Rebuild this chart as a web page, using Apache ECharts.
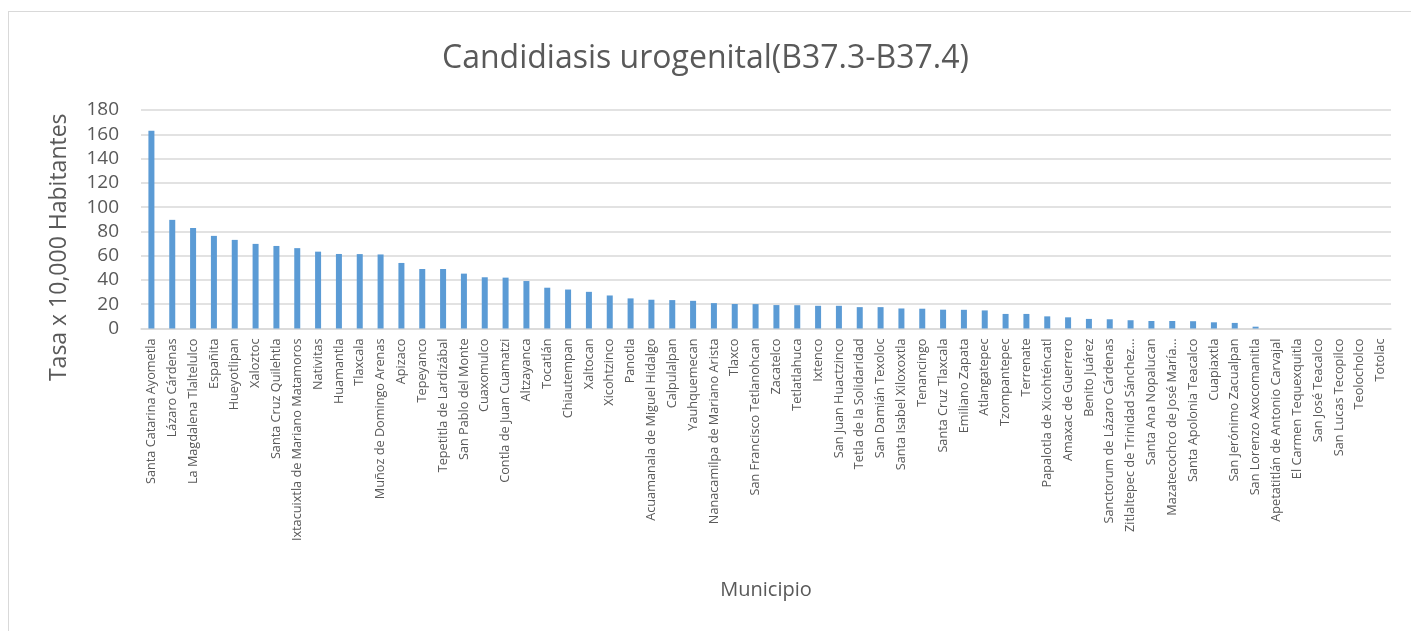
<!DOCTYPE html>
<html>
<head>
<meta charset="utf-8">
<script src="https://cdn.jsdelivr.net/npm/echarts@6/dist/echarts.min.js"></script>
<style>
  html, body { margin: 0; padding: 0; background: #fff; }
  #frame { position: absolute; left: 8px; top: 11px; width: 1420px; height: 640px; border-left: 1px solid #d9d9d9; border-top: 1px solid #d9d9d9; }
  #main { position: absolute; left: 0; top: 0; width: 1411px; height: 631px; }
</style>
</head>
<body>
<div id="frame"></div>
<div id="main"></div>
<script>
// municipios
var municipios = ['Santa Catarina Ayometla', 'Lázaro Cárdenas', 'La Magdalena Tlaltelulco', 'Españita', 'Hueyotlipan',
    'Xaloztoc', 'Santa Cruz Quilehtla', 'Ixtacuixtla de Mariano Matamoros', 'Nativitas', 'Huamantla',
    'Tlaxcala', 'Muñoz de Domingo Arenas', 'Apizaco', 'Tepeyanco', 'Tepetitla de Lardizábal',
    'San Pablo del Monte', 'Cuaxomulco', 'Contla de Juan Cuamatzi', 'Altzayanca', 'Tocatlán',
    'Chiautempan', 'Xaltocan', 'Xicohtzinco', 'Panotla', 'Acuamanala de Miguel Hidalgo',
    'Calpulalpan', 'Yauhquemecan', 'Nanacamilpa de Mariano Arista', 'Tlaxco', 'San Francisco Tetlanohcan',
    'Zacatelco', 'Tetlatlahuca', 'Ixtenco', 'San Juan Huactzinco', 'Tetla de la Solidaridad',
    'San Damián Texoloc', 'Santa Isabel Xiloxoxtla', 'Tenancingo', 'Santa Cruz Tlaxcala', 'Emiliano Zapata',
    'Atlangatepec', 'Tzompantepec', 'Terrenate', 'Papalotla de Xicohténcatl', 'Amaxac de Guerrero',
    'Benito Juárez', 'Sanctorum de Lázaro Cárdenas', 'Zitlaltepec de Trinidad Sánchez...', 'Santa Ana Nopalucan', 'Mazatecochco de José María...',
    'Santa Apolonia Teacalco', 'Cuapiaxtla', 'San Jerónimo Zacualpan', 'San Lorenzo Axocomanitla', 'Apetatitlán de Antonio Carvajal',
    'El Carmen Tequexquitla', 'San José Teacalco', 'San Lucas Tecopilco', 'Teolocholco', 'Totolac'];

// tasa x 10,000 habitantes
var tasas = [163, 89.5, 82.8, 76.3, 73, 69.7, 68, 66.2, 63.3, 61.4,
    61.3, 61, 54, 49, 49, 45.2, 42.2, 41.9, 39.1, 33.6,
    32.1, 30.2, 27.2, 24.8, 23.7, 23.4, 22.8, 20.9, 20.2, 20.1,
    19.3, 19.2, 18.7, 18.7, 17.6, 17.6, 16.5, 16.3, 15.5, 15.4,
    14.9, 12, 12, 10, 9.2, 7.9, 7.6, 6.8, 6.2, 6.2,
    6, 5.1, 4.6, 1.5, 0, 0, 0, 0, 0, 0];

var yTicks = { min: 0, max: 180, interval: 20 };

var textColor = '#595959';
var fontFam = '"Open Sans", "DejaVu Sans", sans-serif';

var myChart = echarts.init(document.getElementById('main'));
var option = {
    animation: false,
    title: {
        text: 'Candidiasis urogenital(B37.3-B37.4)',
        left: 'center',
        top: 38,
        textStyle: { color: textColor, fontSize: 32, fontWeight: 'normal', fontFamily: fontFam }
    },
    grid: { left: 141, right: 20, top: 110, bottom: 302.5, containLabel: false },
    xAxis: {
        type: 'category',
        data: municipios,
        name: 'Municipio',
        nameLocation: 'middle',
        nameGap: 252,
        nameTextStyle: { color: textColor, fontSize: 20, fontFamily: fontFam },
        axisLine: { lineStyle: { color: '#d9d9d9', width: 1.5 } },
        axisTick: { show: false },
        axisLabel: { interval: 0, rotate: 90, margin: 10, color: textColor, fontSize: 12.7, fontFamily: fontFam }
    },
    yAxis: {
        type: 'value',
        min: yTicks.min,
        max: yTicks.max,
        interval: yTicks.interval,
        name: 'Tasa x 10,000 Habitantes',
        nameLocation: 'middle',
        nameRotate: 90,
        nameGap: 70,
        nameTextStyle: { color: textColor, fontSize: 23, fontFamily: fontFam, padding: [0, 56, 0, 0] },
        axisLine: { show: false },
        axisTick: { show: false },
        axisLabel: { margin: 22, color: textColor, fontSize: 19, fontFamily: fontFam },
        splitLine: { lineStyle: { color: '#d9d9d9', width: 1.5 } }
    },
    series: [{
        name: 'Tasa',
        type: 'bar',
        data: tasas,
        barWidth: 6,
        itemStyle: { color: '#5b9bd5' }
    }]
};
myChart.setOption(option);
</script>
</body>
</html>
